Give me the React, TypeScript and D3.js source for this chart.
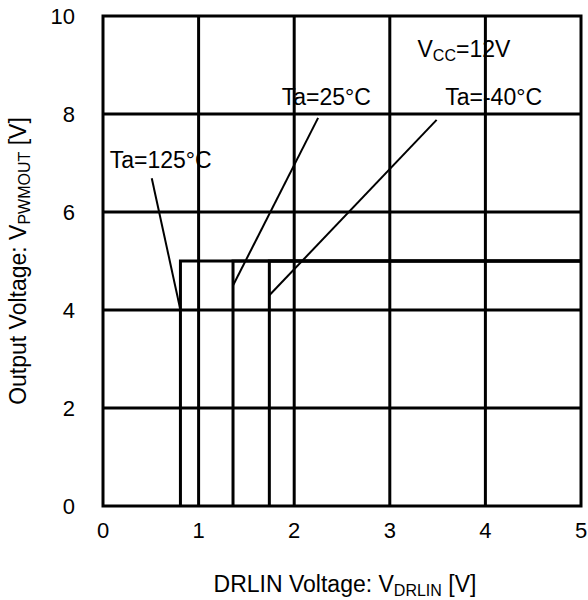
import React from "react";
import * as d3 from "d3";

const xTicks = [0, 1, 2, 3, 4, 5];
const yTicks = [0, 2, 4, 6, 8, 10];
const temps = ["125", "25", "-40"];
const thresholds = [0.81, 1.36, 1.74];
const outputHigh = 5;
const xMax = 5;
const yMax = 10;

const W = 588;
const H = 600;
const margin = { left: 103, right: 7, top: 16, bottom: 94 };
const FONT = "Liberation Sans, Arial, sans-serif";

export default function App() {
  const x = d3.scaleLinear().domain([0, xMax]).range([margin.left, W - margin.right]);
  const y = d3.scaleLinear().domain([0, yMax]).range([H - margin.bottom, margin.top]);

  const line = d3
    .line<[number, number]>()
    .x((d) => x(d[0]))
    .y((d) => y(d[1]));

  const curves = thresholds.map((t) => [
    [t, 0],
    [t, outputHigh],
    [xMax, outputHigh],
  ] as [number, number][]);

  const annots = [
    { text: "Ta=" + temps[0] + "°C", lx: 0.07, ly: 6.9, sx: 0.51, sy: 6.69, ex: thresholds[0], ey: 4.0 },
    { text: "Ta=" + temps[1] + "°C", lx: 1.87, ly: 8.18, sx: 2.25, sy: 7.92, ex: thresholds[1], ey: 4.5 },
    { text: "Ta=" + temps[2] + "°C", lx: 3.58, ly: 8.18, sx: 3.49, sy: 7.88, ex: thresholds[2], ey: 4.3 },
  ];

  return (
    <svg width={W} height={H} style={{ position: "absolute", left: 0, top: 0, background: "#fff" }} fontFamily={FONT}>
      {xTicks.slice(1, -1).map((t) => (
        <line key={"gx" + t} x1={x(t)} x2={x(t)} y1={y(0)} y2={y(yMax)} stroke="#000" strokeWidth={3} />
      ))}
      {yTicks.slice(1, -1).map((t) => (
        <line key={"gy" + t} x1={x(0)} x2={x(xMax)} y1={y(t)} y2={y(t)} stroke="#000" strokeWidth={3} />
      ))}
      {curves.map((c, i) => (
        <path key={"c" + i} d={line(c) || ""} fill="none" stroke="#000" strokeWidth={3} />
      ))}
      <rect x={x(0)} y={y(yMax)} width={x(xMax) - x(0)} height={y(0) - y(yMax)} fill="none" stroke="#000" strokeWidth={3} />
      {xTicks.map((t) => (
        <text key={"xt" + t} x={x(t)} y={y(0) + 32} textAnchor="middle" fontSize={22}>
          {t}
        </text>
      ))}
      {yTicks.map((t) => (
        <text key={"yt" + t} x={x(0) - 28} y={y(t) + 8} textAnchor="end" fontSize={22}>
          {t}
        </text>
      ))}
      <text x={(x(0) + x(xMax)) / 2 + 3} y={y(0) + 86} textAnchor="middle" fontSize={23}>
        DRLIN Voltage: V<tspan fontSize={16} dy={4}>DRLIN</tspan>
        <tspan dy={-4}> [V]</tspan>
      </text>
      <text
        transform={`translate(26, ${(y(0) + y(yMax)) / 2}) rotate(-90)`}
        textAnchor="middle"
        fontSize={23}
      >
        Output Voltage: V<tspan fontSize={16} dy={4}>PWMOUT</tspan>
        <tspan dy={-4}> [V]</tspan>
      </text>
      <text x={x(3.29)} y={y(9.16)} fontSize={23}>
        V<tspan fontSize={16} dy={4}>CC</tspan>
        <tspan dy={-4}>=12V</tspan>
      </text>
      {annots.map((a, i) => (
        <g key={"a" + i}>
          <text x={x(a.lx)} y={y(a.ly)} fontSize={23}>
            {a.text}
          </text>
          <line x1={x(a.sx)} y1={y(a.sy)} x2={x(a.ex)} y2={y(a.ey)} stroke="#000" strokeWidth={2} />
        </g>
      ))}
    </svg>
  );
}
